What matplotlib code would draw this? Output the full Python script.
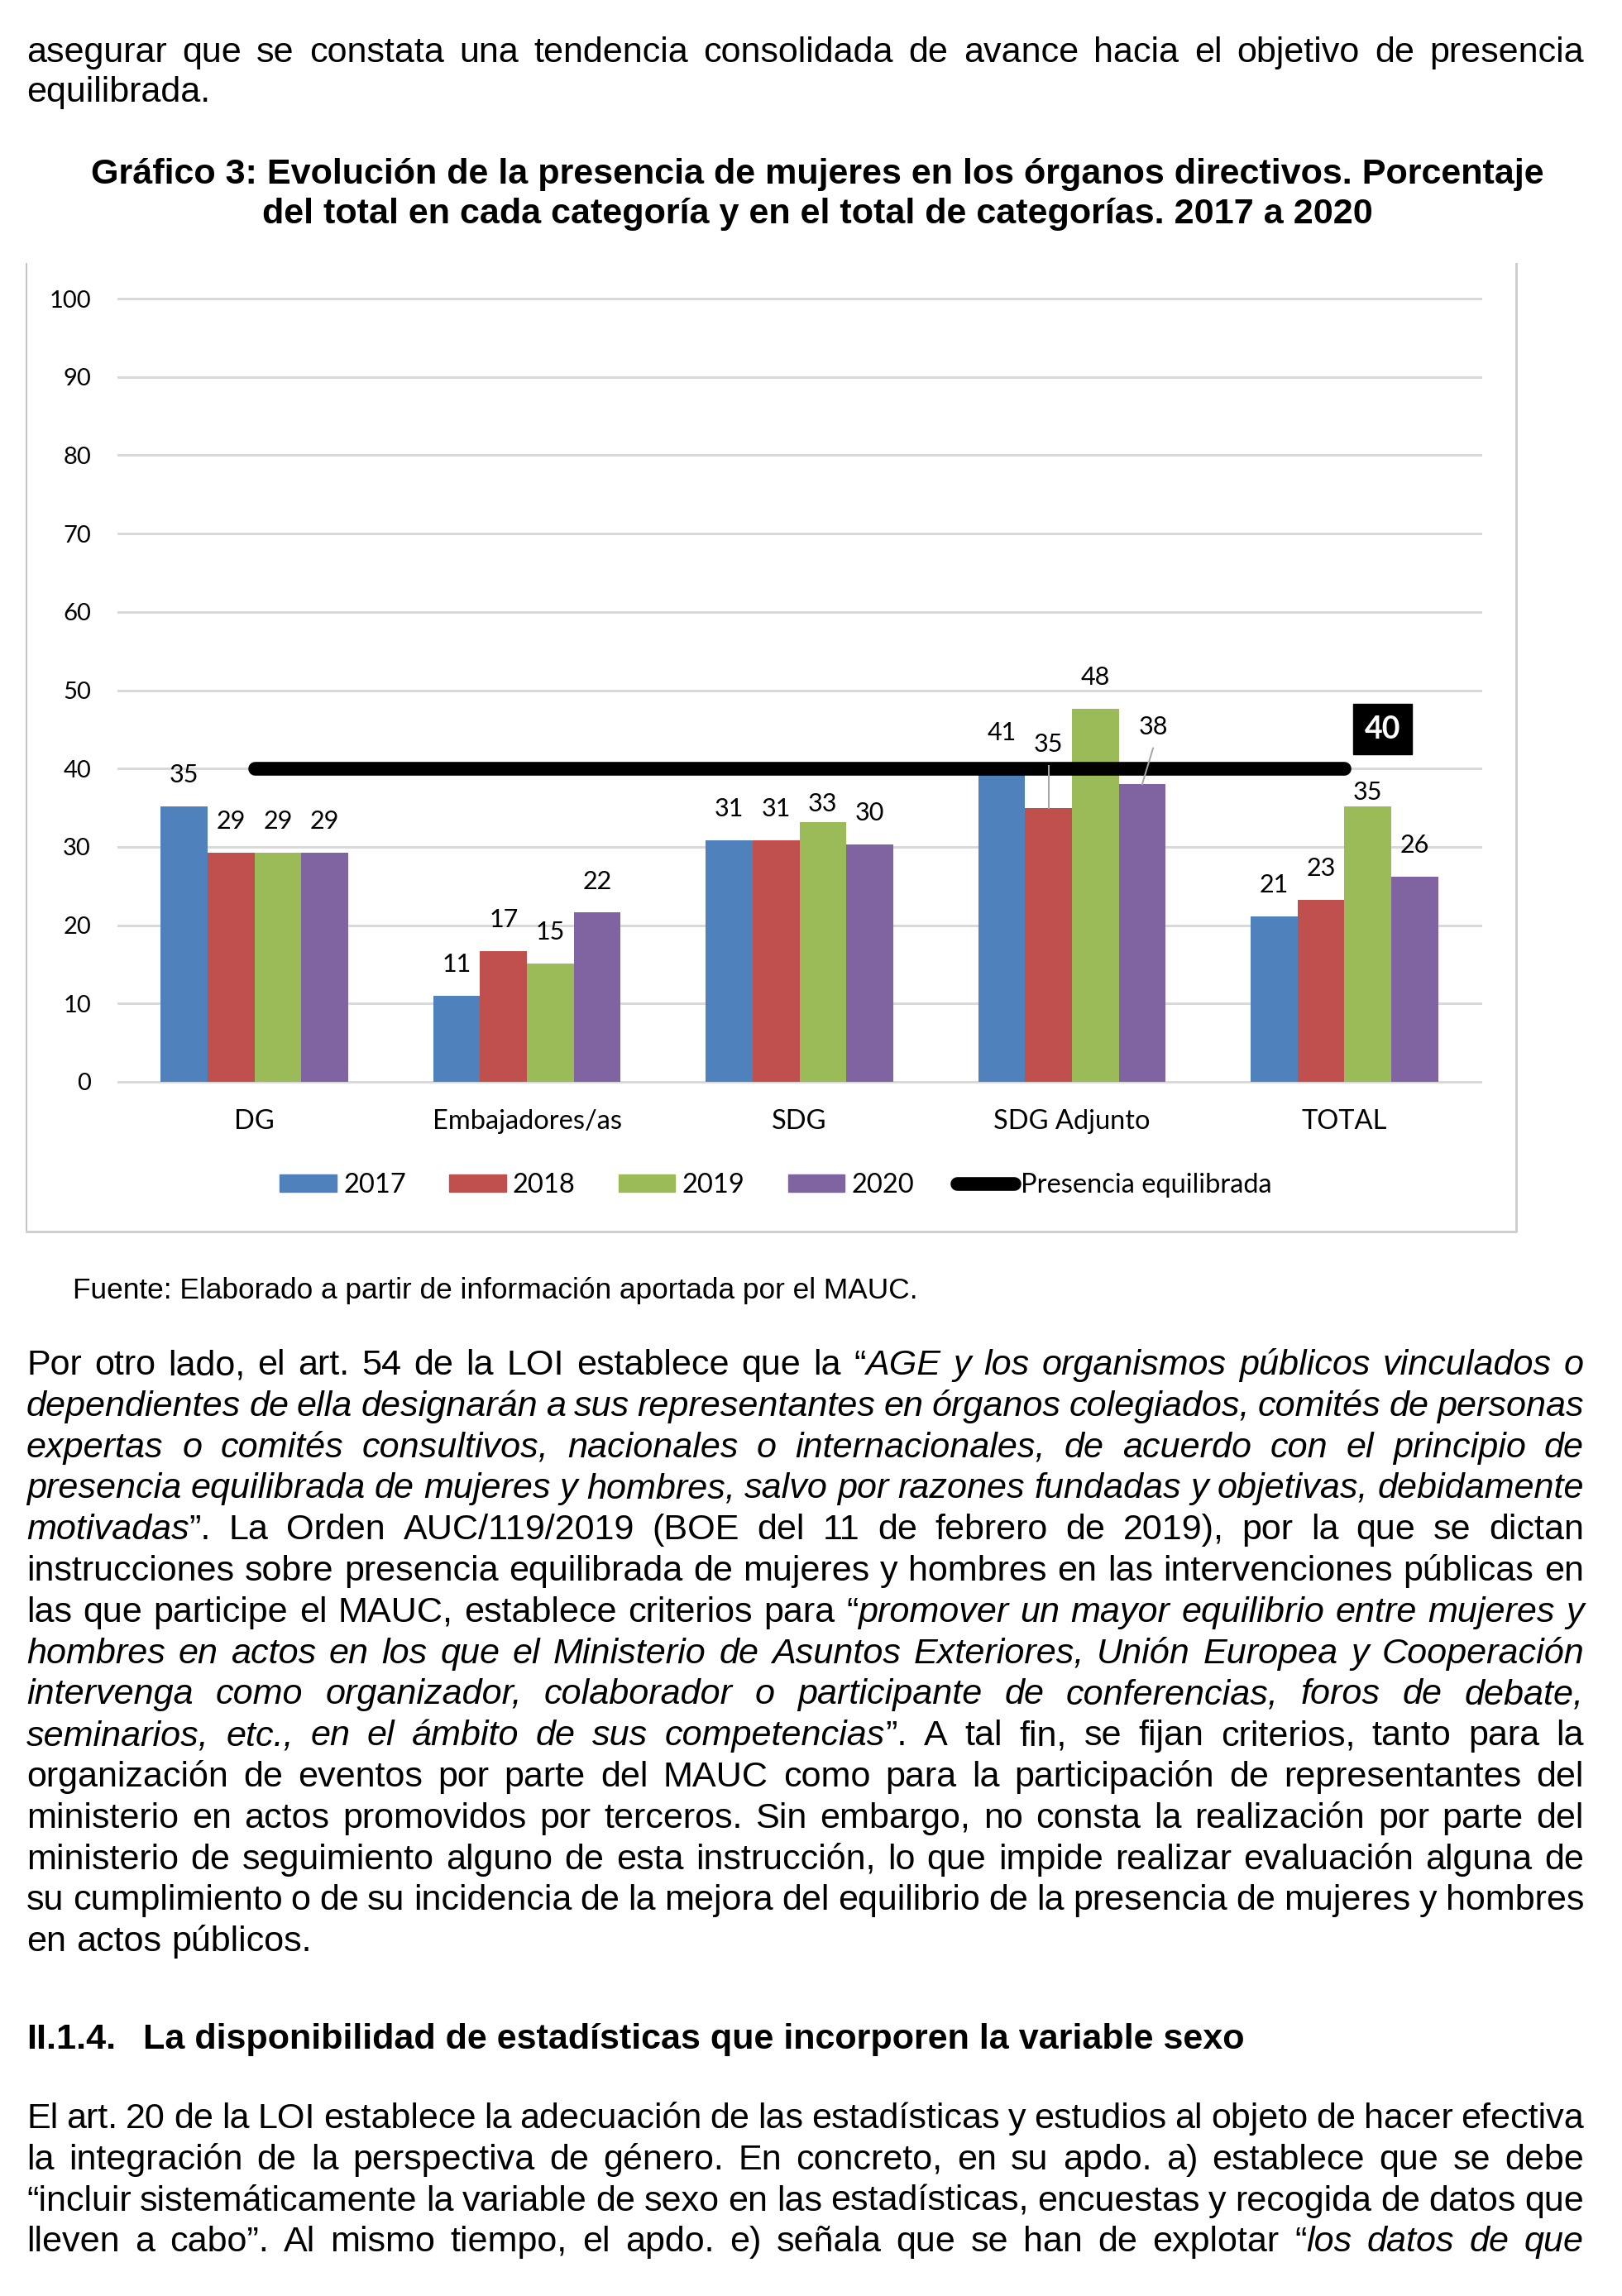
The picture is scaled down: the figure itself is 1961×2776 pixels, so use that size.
"""
Page with Gráfico 3: presencia de mujeres en órganos directivos (2017-2020)
"""
import matplotlib
matplotlib.use('Agg')
import matplotlib.pyplot as plt
import matplotlib.patches as mpatches
from matplotlib.lines import Line2D
import numpy as np

# ---- data ----
categories = ['DG', 'Embajadores/as', 'SDG', 'SDG Adjunto', 'TOTAL']
years = ['2017', '2018', '2019', '2020']
pct_2017 = [35.2, 11.0, 30.8, 40.6, 21.1]
pct_2018 = [29.3, 16.7, 30.8, 35.0, 23.2]
pct_2019 = [29.3, 15.1, 33.2, 47.6, 35.2]
pct_2020 = [29.3, 21.6, 30.3, 38.0, 26.2]
target = 40
target_label = 'Presencia equilibrada'
yticks = list(range(0, 101, 10))
colors = ['#4F81BD', '#C0504D', '#9BBB59', '#8064A2']

intro_lines = [
    'asegurar que se constata una tendencia consolidada de avance hacia el objetivo de presencia',
    'equilibrada.',
]
title_lines = [
    'Gráfico 3: Evolución de la presencia de mujeres en los órganos directivos. Porcentaje',
    'del total en cada categoría y en el total de categorías. 2017 a 2020',
]
source = 'Fuente: Elaborado a partir de información aportada por el MAUC.'
# _ toggles italic
para_lines = [
    'Por otro lado, el art. 54 de la LOI establece que la “_AGE y los organismos públicos vinculados o_',
    '_dependientes de ella designarán a sus representantes en órganos colegiados, comités de personas_',
    '_expertas o comités consultivos, nacionales o internacionales, de acuerdo con el principio de_',
    '_presencia equilibrada de mujeres y hombres, salvo por razones fundadas y objetivas, debidamente_',
    '_motivadas_”. La Orden AUC/119/2019 (BOE del 11 de febrero de 2019), por la que se dictan',
    'instrucciones sobre presencia equilibrada de mujeres y hombres en las intervenciones públicas en',
    'las que participe el MAUC, establece criterios para “_promover un mayor equilibrio entre mujeres y_',
    '_hombres en actos en los que el Ministerio de Asuntos Exteriores, Unión Europea y Cooperación_',
    '_intervenga como organizador, colaborador o participante de conferencias, foros de debate,_',
    '_seminarios, etc., en el ámbito de sus competencias_”. A tal fin, se fijan criterios, tanto para la',
    'organización de eventos por parte del MAUC como para la participación de representantes del',
    'ministerio en actos promovidos por terceros. Sin embargo, no consta la realización por parte del',
    'ministerio de seguimiento alguno de esta instrucción, lo que impide realizar evaluación alguna de',
    'su cumplimiento o de su incidencia de la mejora del equilibrio de la presencia de mujeres y hombres',
    'en actos públicos.',
]
heading_num = 'II.1.4.'
heading = 'La disponibilidad de estadísticas que incorporen la variable sexo'
last_lines = [
    'El art. 20 de la LOI establece la adecuación de las estadísticas y estudios al objeto de hacer efectiva',
    'la integración de la perspectiva de género. En concreto, en su apdo. a) establece que se debe',
    '“incluir sistemáticamente la variable de sexo en las estadísticas, encuestas y recogida de datos que',
    'lleven a cabo”. Al mismo tiempo, el apdo. e) señala que se han de explotar “_los datos de que_',
]

# ---- page setup (1 data unit = 1 pixel) ----
W, H = 1961, 2776
PX = 0.72          # points per pixel at dpi 100
PG = 2.371         # page points -> figure points
BODY = 'Liberation Sans'
CHART = 'Lato'
LEFT, RIGHT = 32, 1915
BODY_SIZE = 13.1 * PG
SRC_SIZE = 10.7 * PG
CH = 21            # tick labels
CH_D = 22          # data labels
CH_L = 23.5        # category labels and legend

fig = plt.figure(figsize=(W / 100, H / 100), dpi=100)
fig.patch.set_facecolor('white')
page = fig.add_axes([0, 0, 1, 1])
page.set_xlim(0, W)
page.set_ylim(H, 0)
page.axis('off')
renderer = fig.canvas.get_renderer()


def width_of(s, size, weight='normal', style='normal'):
    t = page.text(0, 0, s, fontsize=size, family=BODY, weight=weight, style=style)
    w = t.get_window_extent(renderer).width
    t.remove()
    return w


def text_line(line, y, size=BODY_SIZE, x0=LEFT, x1=RIGHT, justify=True, weight='normal'):
    italic = False
    words = []
    for token in line.split(' '):
        segs = []
        for i, part in enumerate(token.split('_')):
            if i > 0:
                italic = not italic
            if part:
                t = page.text(0, y, part, fontsize=size, family=BODY, weight=weight,
                              style='italic' if italic else 'normal',
                              va='baseline', ha='left')
                segs.append((t, t.get_window_extent(renderer).width))
        words.append(segs)
    widths = [sum(w for _, w in segs) for segs in words]
    if justify and len(words) > 1:
        gap = (x1 - x0 - sum(widths)) / (len(words) - 1)
    else:
        gap = width_of('a a', size, weight) - width_of('aa', size, weight)
    x = x0
    for segs, ww in zip(words, widths):
        for t, w in segs:
            t.set_x(x)
            x += w
        x += gap


def paragraph(lines, y0, step=49.8, last_justified=False):
    for k, line in enumerate(lines):
        last = k == len(lines) - 1
        text_line(line, y0 + k * step, justify=(not last) or last_justified)


paragraph(intro_lines, 75, step=47.5)
for k, line in enumerate(title_lines):
    page.text(988, 222 + k * 47.5, line, fontsize=BODY_SIZE, family=BODY, weight='bold',
              ha='center', va='baseline')
page.text(88, 1570, source, fontsize=SRC_SIZE, family=BODY, va='baseline')
paragraph(para_lines, 1662)
page.text(LEFT, 2477, heading_num, fontsize=BODY_SIZE, family=BODY, weight='bold', va='baseline')
page.text(173, 2477, heading, fontsize=BODY_SIZE, family=BODY, weight='bold', va='baseline')
paragraph(last_lines, 2573, last_justified=True)

# chart frame
frame_c = '#cfcfcf'
page.plot([32, 32], [319, 1489], color='#c4c4c4', lw=2 * PX)
page.plot([32, 1833, 1833], [1489, 1489, 319], color=frame_c, lw=3 * PX)

# ---- chart ----
ax = fig.add_axes([143 / W, 1 - 1308 / H, (1790 - 143) / W, (1308 - 361) / H])
ax.set_facecolor('none')
x = np.arange(len(categories))
bw = 0.172
series = [pct_2017, pct_2018, pct_2019, pct_2020]

# label offsets above bar tops (manually placed ones in the original)
label_dy = {(2, 2): 2.3, (2, 4): 1.8, (1, 3): 8.1, (3, 3): 7.3}
label_dx = {(3, 3): 0.042}
leaders = {(1, 3): (0.0, 40.3), (3, 3): (0.04, 42.6)}

for i, vals in enumerate(series):
    xs = x + (i - 1.5) * bw
    ax.bar(xs, vals, bw, color=colors[i], label=years[i], zorder=2)
    for j, v in enumerate(vals):
        dy = label_dy.get((i, j), 4.0)
        dx = label_dx.get((i, j), 0.0)
        ax.text(xs[j] + dx, v + dy, '%.0f' % v, ha='center', va='center',
                fontsize=CH_D, family=CHART, color='black', zorder=6)
        if (i, j) in leaders:
            ldx, ytop = leaders[(i, j)]
            ax.plot([xs[j] + ldx, xs[j]], [ytop, v], color='#a6a6a6', lw=2 * PX, zorder=5)

ax.plot([x[0], x[-1]], [target, target], color='black', lw=16.6 * PX,
        solid_capstyle='round', zorder=4)
ax.text(4.14, 45.0, str(target), ha='center', va='center', fontsize=27, family=CHART,
        weight='bold', color='white', zorder=7,
        bbox=dict(boxstyle='square,pad=0.36', facecolor='black', edgecolor='black'))

ax.set_xlim(-0.5, 4.5)
ax.set_ylim(0, 100)
ax.set_yticks(yticks)
ax.set_xticks(x)
ax.set_xticklabels(categories)
ax.yaxis.grid(True, color='#d9d9d9', lw=3 * PX, zorder=0)
for gl in ax.get_ygridlines():
    gl.set_clip_on(False)
ax.set_axisbelow(True)
for s in ax.spines.values():
    s.set_visible(False)
ax.tick_params(length=0)
ax.tick_params(axis='y', pad=33 * PX, labelsize=CH)
ax.tick_params(axis='x', pad=33 * PX, labelsize=CH_L)
for lab in ax.get_xticklabels() + ax.get_yticklabels():
    lab.set_family(CHART)

handles = [mpatches.Patch(color=c, label=y) for c, y in zip(colors, years)]
handles.append(Line2D([], [], color='black', lw=16.6 * PX, solid_capstyle='round',
                      label=target_label))
fig.legend(handles=handles, loc='center', bbox_to_anchor=(938 / W, 1 - 1433 / H),
           ncol=5, frameon=False, prop={'family': CHART, 'size': CH_L},
           handlelength=2.1, handleheight=0.62, handletextpad=0.25, columnspacing=1.6)

plt.savefig('out.png', dpi=100, facecolor='white')
plt.close()
